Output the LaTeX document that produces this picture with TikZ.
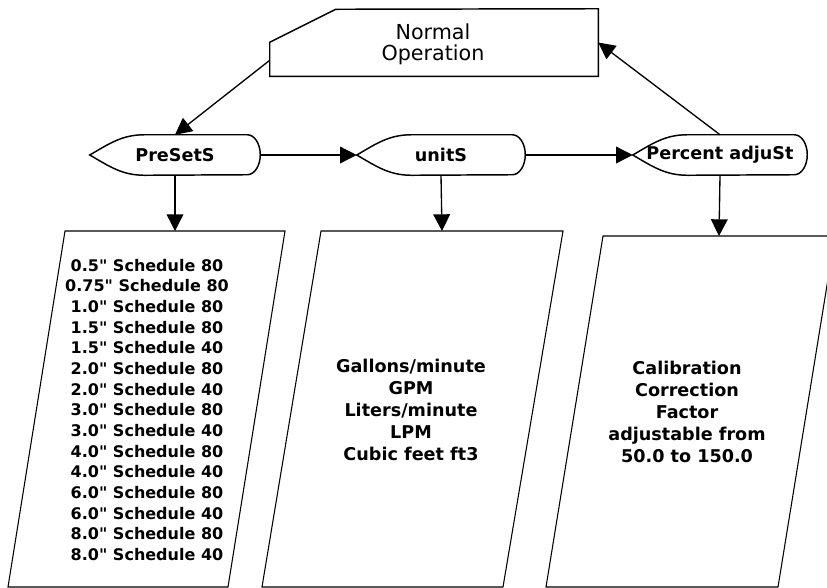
\documentclass[tikz,border=0pt]{standalone}
\usepackage{fontspec}
\setmainfont{DejaVu Sans}[Ligatures=TeXOff]
\usetikzlibrary{arrows.meta,calc}
% outline of a display node: pointed left end, rounded right end
\newcommand{\dispoutline}[1]{%
\draw[outl](#1.west) to [out=30,in=180]($(#1.north west)+(55,0)$)--($(#1.north east)+(-13,0)$)
  arc[start angle=90,end angle=-90,x radius=9.75pt,y radius=15pt]
  --($(#1.south west)+(55,0)$) to [out=180,in=-30](#1.west)--cycle;}
\begin{document}
\begin{tikzpicture}[x=0.75pt,y=-0.75pt,
  outl/.style={line width=1.1pt},
  arr/.style={line width=1pt,-{Triangle[length=12.5pt,width=12.5pt]}},
  dispnode/.style={inner sep=0pt,minimum height=30pt,font=\bfseries\fontsize{13.2}{15}\selectfont},
  boxline/.style={line width=0.8pt}]
\path[use as bounding box](0,0) rectangle (827,587);
\clip(0,0) rectangle (827,587);
%
% top state
\node[inner sep=0pt,minimum width=246pt,minimum height=50.25pt](normal) at (434,42.5){};
\node[align=center,font=\fontsize{15.5}{16}\selectfont](normaltext) at (433,44){Normal\\Operation};
\draw[outl](normal.south west)--++(0,-34)--++(66,-33)--(normal.north east)--(normal.south east)--cycle;
%
% menu entries
\node[dispnode,minimum width=127.5pt](presets) at (175,155){PreSetS};
\node[dispnode,minimum width=126pt](units) at (441,155){unitS};
\node[dispnode,minimum width=130.5pt](percent) at (720,155){Percent adjuSt};
\dispoutline{presets}
\dispoutline{units}
\dispoutline{percent}
%
% option boxes
\draw[boxline](65,231)--coordinate(presetbox)(285,231)--(228,587)--(8,587)--cycle;
\draw[boxline](321,231)--coordinate(unitbox)(563,231)--(503,587)--(262,587)--cycle;
\draw[boxline](603,236)--coordinate(percentbox)(835,236)--(778,587)--(546,587)--cycle;
%
\node[align=center,font=\bfseries\fontsize{12}{15.5}\selectfont](presetlist) at (147,410){%
0.5" Schedule 80\\0.75" Schedule 80\\1.0" Schedule 80\\1.5" Schedule 80\\1.5" Schedule 40\\
2.0" Schedule 80\\2.0" Schedule 40\\3.0" Schedule 80\\3.0" Schedule 40\\4.0" Schedule 80\\
4.0" Schedule 40\\6.0" Schedule 80\\6.0" Schedule 40\\8.0" Schedule 80\\8.0" Schedule 40};
\node[align=center,font=\bfseries\fontsize{13.2}{16.5}\selectfont](unitlist) at (411,410){%
Gallons/minute\\GPM\\Liters/minute\\LPM\\Cubic feet ft3};
\node[align=center,font=\bfseries\fontsize{13.2}{16.5}\selectfont](percentlist) at (687,412){%
Calibration\\Correction\\Factor\\adjustable from\\50.0 to 150.0};
%
% connectors
\draw[arr]($(normal.south west)+(0,-16)$)--(presets.north);
\draw[arr](presets.east)--(units.west);
\draw[arr](units.east)--(percent.west);
\draw[arr](percent.north)--(normal.east);
\draw[arr](presets.south)--(presetbox);
\draw[arr](units.south)--(unitbox);
\draw[arr](percent.south)--(percentbox);
\end{tikzpicture}
\end{document}
